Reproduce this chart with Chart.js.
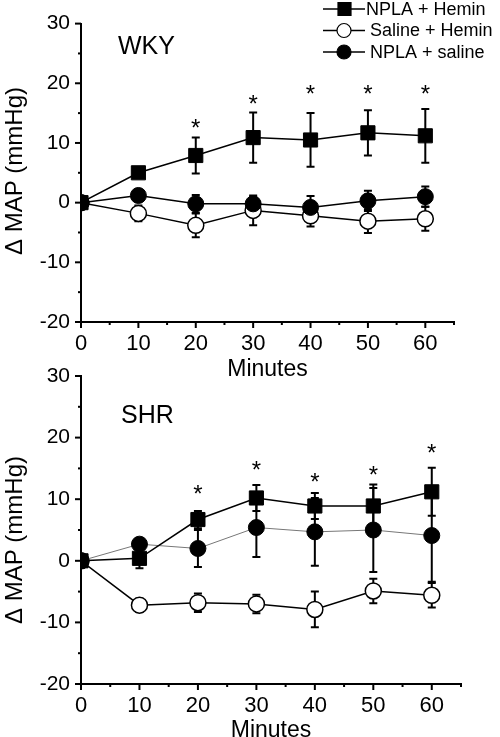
<!DOCTYPE html>
<html>
<head>
<meta charset="utf-8">
<script src="https://cdn.jsdelivr.net/npm/chart.js@4.4.1/dist/chart.umd.min.js"></script>
<style>
  body { margin: 0; background: #fff; }
  #wrap { position: relative; width: 500px; height: 737px; overflow: hidden; }
  canvas { position: absolute; left: 0; }
</style>
</head>
<body>
<div id="wrap">
  <canvas id="wky" width="500" height="385" style="top:0px"></canvas>
  <canvas id="shr" width="500" height="395" style="top:350px"></canvas>
</div>
<script>
// Datos comunes
const minutes = [0, 10, 20, 30, 40, 50, 60];
const xTicks = [0, 10, 20, 30, 40, 50, 60];
const yTicks = [-20, -10, 0, 10, 20, 30];
const seriesNames = ["NPLA + Hemin", "Saline + Hemin", "NPLA + saline"];

// Panel WKY
const wkyNplaHemin = [0, 5.0, 7.9, 10.9, 10.5, 11.7, 11.2];
const wkyNplaHeminErr = [0, 0.8, 3.0, 4.2, 4.5, 3.8, 4.5];
const wkySalineHemin = [0, -1.8, -3.8, -1.3, -2.2, -3.1, -2.7];
const wkySalineHeminErr = [0, 1.3, 2.0, 2.5, 1.8, 2.0, 2.0];
const wkyNplaSaline = [0, 1.2, -0.2, -0.2, -0.8, 0.3, 1.0];
const wkyNplaSalineErr = [0, 1.0, 1.5, 1.2, 1.9, 1.7, 1.7];
const wkyStars = [null, null, 12.5, 16.4, 18.1, 18.1, 18.1];

// Panel SHR
const shrNplaHemin = [0, 0.4, 6.7, 10.2, 8.9, 8.9, 11.2];
const shrNplaHeminErr = [0, 1.6, 1.4, 2.1, 2.1, 3.5, 3.9];
const shrSalineHemin = [0, -7.2, -6.8, -7.0, -7.9, -4.9, -5.6];
const shrSalineHeminErr = [0, 1.1, 1.5, 1.5, 2.9, 2.0, 2.0];
const shrNplaSaline = [0, 2.7, 2.0, 5.4, 4.7, 5.0, 4.1];
const shrNplaSalineErr = [0, 1.0, 3.0, 4.8, 5.5, 6.8, 7.5];
const shrStars = [null, null, 10.8, 14.7, 12.8, 13.9, 17.5];

const FONT = "'Liberation Sans', Arial, sans-serif";
const yTitle = "Δ MAP (mmHg)";

function pts(values) {
  return minutes.map((m, i) => ({ x: m, y: values[i] }));
}

// Barras de error, ticks, asteriscos, leyenda y etiqueta del panel
const extrasPlugin = {
  id: "extras",
  beforeDatasetsDraw(chart) {
    const ctx = chart.ctx;
    const xs = chart.scales.x, ys = chart.scales.y;
    ctx.save();
    ctx.strokeStyle = "#000";
    ctx.lineWidth = 2;
    chart.data.datasets.forEach((ds) => {
      if (!ds.errors) return;
      ds.data.forEach((p, i) => {
        const e = ds.errors[i];
        if (!e) return;
        const x = xs.getPixelForValue(p.x);
        const yt = ys.getPixelForValue(p.y + e);
        const yb = ys.getPixelForValue(p.y - e);
        ctx.beginPath();
        ctx.moveTo(x, yt); ctx.lineTo(x, yb);
        ctx.moveTo(x - 4, yt); ctx.lineTo(x + 4, yt);
        ctx.moveTo(x - 4, yb); ctx.lineTo(x + 4, yb);
        ctx.stroke();
      });
    });
    ctx.restore();
  },
  afterDraw(chart, args, opts) {
    const ctx = chart.ctx;
    const xs = chart.scales.x, ys = chart.scales.y;
    const area = chart.chartArea;
    ctx.save();
    ctx.strokeStyle = "#000";
    ctx.lineWidth = 2;
    // ticks del eje x (mayores y menores)
    for (let v = xs.min; v <= xs.max; v += 5) {
      const x = xs.getPixelForValue(v);
      const len = v % 10 === 0 ? 6 : 3;
      ctx.beginPath();
      ctx.moveTo(x, area.bottom); ctx.lineTo(x, area.bottom + len);
      ctx.stroke();
    }
    // ticks del eje y
    for (let v = ys.min; v <= ys.max; v += 5) {
      const y = ys.getPixelForValue(v);
      const len = v % 10 === 0 ? 6 : 3;
      ctx.beginPath();
      ctx.moveTo(area.left, y); ctx.lineTo(area.left - len, y);
      ctx.stroke();
    }
    // titulo del eje y (girado)
    ctx.fillStyle = "#000";
    ctx.save();
    ctx.translate(15, opts.yTitleY);
    ctx.rotate(-Math.PI / 2);
    ctx.font = "24px " + FONT;
    ctx.textAlign = "center";
    ctx.textBaseline = "middle";
    ctx.fillText(yTitle, 0, 0);
    ctx.restore();
    // asteriscos
    ctx.font = "24px " + FONT;
    ctx.textAlign = "center";
    ctx.textBaseline = "middle";
    opts.stars.forEach((s, i) => {
      if (s == null) return;
      ctx.fillText("*", xs.getPixelForValue(minutes[i]), ys.getPixelForValue(s) + 1);
    });
    // etiqueta del panel
    ctx.font = "25px " + FONT;
    ctx.textAlign = "left";
    ctx.fillText(opts.panel, opts.panelX, opts.panelY);
    // leyenda
    if (opts.legend) {
      const ds = chart.data.datasets;
      const order = [0, 2, 1];
      order.forEach((k, row) => {
        const d = ds[k];
        const y = 9 + row * 21.5;
        ctx.strokeStyle = "#000";
        ctx.lineWidth = 1.5;
        ctx.beginPath();
        ctx.moveTo(323, y); ctx.lineTo(365, y);
        ctx.stroke();
        ctx.fillStyle = d.pointBackgroundColor;
        ctx.lineWidth = 1.2;
        ctx.beginPath();
        if (d.pointStyle === "rect") ctx.rect(338, y - 6.5, 13, 13);
        else ctx.arc(344, y, 7, 0, Math.PI * 2);
        ctx.fill();
        ctx.stroke();
        ctx.fillStyle = "#000";
        ctx.font = "18px " + FONT;
        ctx.textBaseline = "middle";
        ctx.fillText(d.label, row === 0 ? 366 : 370, y + 1);
      });
    }
    ctx.restore();
  },
};

function makeChart(id, sets, p) {
  const [sq, sqErr, open, openErr, filled, filledErr] = sets;
  return new Chart(document.getElementById(id), {
    type: "line",
    plugins: [extrasPlugin],
    data: {
      datasets: [
        {
          label: seriesNames[0],
          data: pts(sq), errors: sqErr, order: 0,
          borderColor: "#000", borderWidth: 1.5,
          pointStyle: "rect", pointRadius: 10,
          pointBackgroundColor: "#000", pointBorderColor: "#000", pointBorderWidth: 1,
        },
        {
          label: seriesNames[2],
          data: pts(filled), errors: filledErr, order: 1,
          borderColor: p.filledLine, borderWidth: p.filledWidth,
          pointStyle: "circle", pointRadius: 8,
          pointBackgroundColor: "#000", pointBorderColor: "#000", pointBorderWidth: 1,
        },
        {
          label: seriesNames[1],
          data: pts(open), errors: openErr, order: 2,
          borderColor: "#000", borderWidth: 1.5,
          pointStyle: "circle", pointRadius: 8,
          pointBackgroundColor: "#fff", pointBorderColor: "#000", pointBorderWidth: 1.5,
        },
      ],
    },
    options: {
      responsive: false,
      animation: false,
      events: [],
      layout: { padding: { left: 0, top: p.top, right: p.right, bottom: 0 } },
      plugins: {
        legend: { display: false },
        tooltip: { enabled: false },
        extras: { stars: p.stars, panel: p.panel, panelX: p.panelX, panelY: p.panelY, legend: p.legend, yTitleY: p.yTitleY },
      },
      scales: {
        x: {
          type: "linear", min: 0, max: 65,
          afterBuildTicks: (s) => { s.ticks = xTicks.map((v) => ({ value: v })); },
          afterFit: (s) => { s.height = p.xHeight; },
          grid: { display: false, drawTicks: false },
          border: { display: true, color: "#000", width: 2 },
          ticks: { color: "#000", font: { family: FONT, size: 22 }, padding: 9 },
          title: { display: true, text: "Minutes", color: "#000", font: { family: FONT, size: 23 }, padding: { top: 0, bottom: p.titlePad } },
        },
        y: {
          type: "linear", min: -20, max: 30,
          afterBuildTicks: (s) => { s.ticks = yTicks.map((v) => ({ value: v })); },
          afterFit: (s) => { s.width = 81; },
          grid: { display: false, drawTicks: false },
          border: { display: true, color: "#000", width: 2 },
          ticks: { color: "#000", font: { family: FONT, size: 21 }, padding: 11 },
        },
      },
    },
  });
}

makeChart("wky",
  [wkyNplaHemin, wkyNplaHeminErr, wkySalineHemin, wkySalineHeminErr, wkyNplaSaline, wkyNplaSalineErr],
  { top: 16, right: 46, xHeight: 63, titlePad: 2, stars: wkyStars, panel: "WKY", panelX: 118, panelY: 47, legend: true,
    yTitleY: 171, filledLine: "#000", filledWidth: 1.5 });

makeChart("shr",
  [shrNplaHemin, shrNplaHeminErr, shrSalineHemin, shrSalineHeminErr, shrNplaSaline, shrNplaSalineErr],
  { top: 26, right: 39, xHeight: 61, titlePad: 1, stars: shrStars, panel: "SHR", panelX: 121, panelY: 66, legend: false,
    yTitleY: 190, filledLine: "#777", filledWidth: 1 });
</script>
</body>
</html>
